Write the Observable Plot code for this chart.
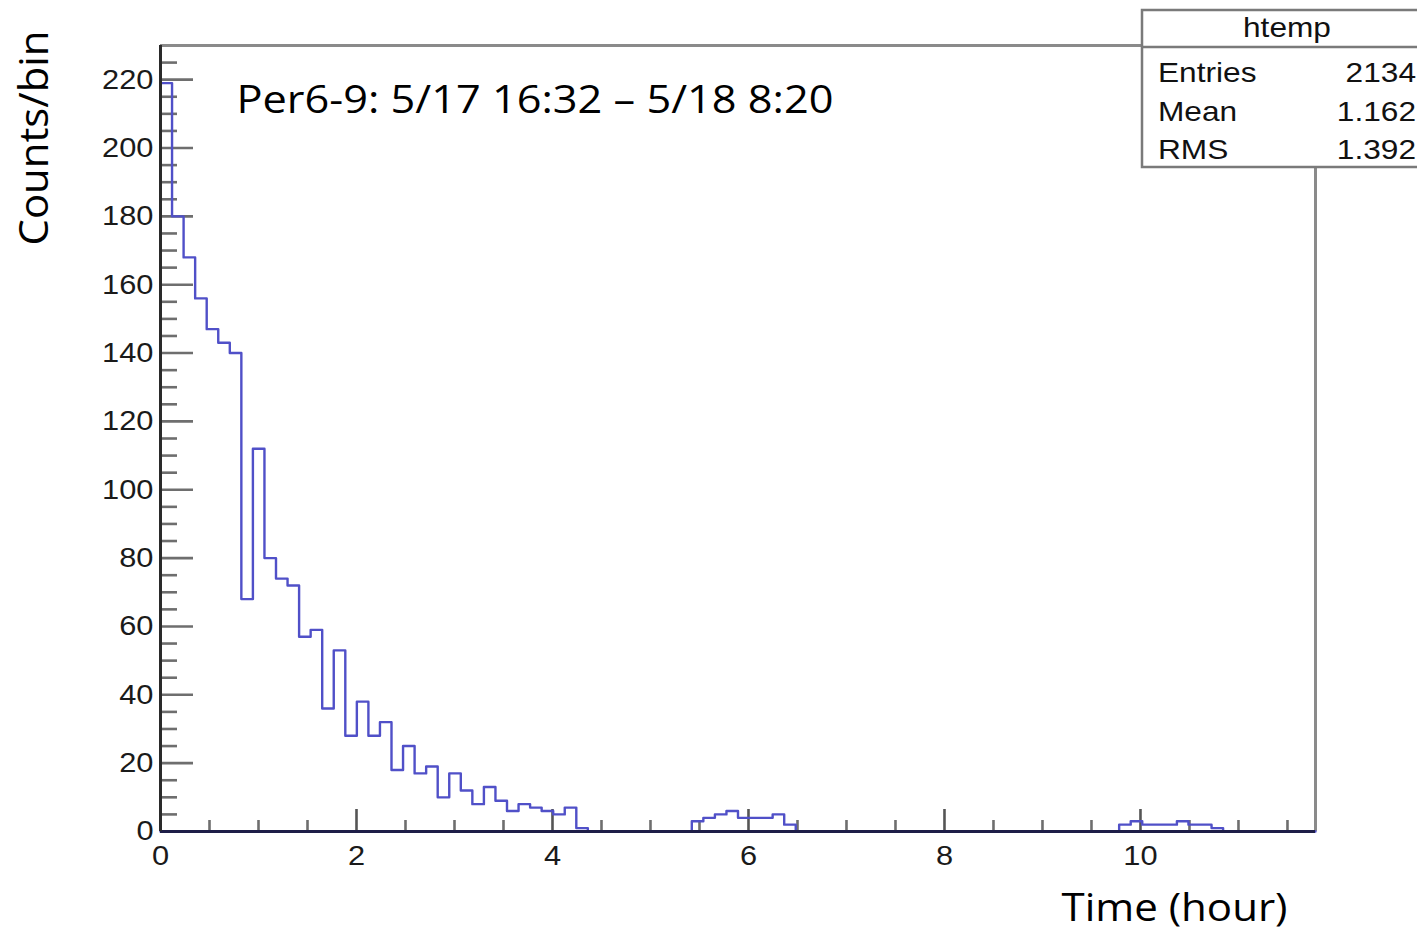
<!DOCTYPE html>
<html><head><meta charset="utf-8">
<script src="https://cdn.jsdelivr.net/npm/d3@7"></script>
<script src="https://cdn.jsdelivr.net/npm/@observablehq/plot@0.6"></script>
<style>html,body{margin:0;padding:0;background:#fff;overflow:hidden}</style>
</head><body><div id="chart"></div>
<script>
// Histogram counts per bin (100 bins from 0 to xMax hours)
const counts = [
  219,180,168,156,147,143,140,68,112,80,
  74,72,57,59,36,53,28,38,28,32,
  18,25,17,19,10,17,12,8,13,9,
  6,8,7,6,5,7,1,0,0,0,
  0,0,0,0,0,0,3,4,5,6,
  4,4,4,5,2,0,0,0,0,0,
  0,0,0,0,0,0,0,0,0,0,
  0,0,0,0,0,0,0,0,0,0,
  0,0,0,2,3,2,2,2,3,2,
  2,1,0,0,0,0,0,0,0,0
];
const xMax = 11.786;
const yMax = 230;
const xMajorTicks = [0, 2, 4, 6, 8, 10];
const xMinorTicks = [0.5, 1, 1.5, 2.5, 3, 3.5, 4.5, 5, 5.5, 6.5, 7, 7.5, 8.5, 9, 9.5, 10.5, 11, 11.5];
const yMajorTicks = [0, 20, 40, 60, 80, 100, 120, 140, 160, 180, 200, 220];
const yMinorTicks = [5,10,15,25,30,35,45,50,55,65,70,75,85,90,95,105,110,115,125,130,135,145,150,155,165,170,175,185,190,195,205,210,215,225];
const statsTitle = "htemp";
const statsLabels = ["Entries", "Mean", "RMS"];
const statsValues = ["2134", "1.162", "1.392"];
const annotation = "Per6-9: 5/17 16:32 – 5/18 8:20";
const xLabel = "Time (hour)";
const yLabel = "Counts/bin";

const binWidth = xMax / counts.length;
const steps = [{x: 0, y: 0}]
  .concat(counts.map((c, i) => ({x: i * binWidth, y: c})))
  .concat([{x: xMax, y: counts[counts.length - 1]}]);

const W = 1417, H = 931;
const mL = 160, mR = 102, mT = 45, mB = 100;
const fw = W - mL - mR, fh = H - mT - mB;
const tickFont = "Liberation Sans, Arial, Helvetica, sans-serif";
const annFont = "Open Sans, sans-serif";

const plot = Plot.plot({
  width: W, height: H,
  marginLeft: mL, marginRight: mR, marginTop: mT, marginBottom: mB,
  x: {domain: [0, xMax], axis: null},
  y: {domain: [0, yMax], axis: null},
  style: {background: "#fff", overflow: "visible"},
  marks: [
    Plot.ruleY([yMax], {stroke: "#8a8a8a", strokeWidth: 3}),
    Plot.ruleX([xMax], {stroke: "#8a8a8a", strokeWidth: 3}),
    Plot.tickY(yMajorTicks, {y: d => d, stroke: "#6e6e6e", strokeWidth: 2.6, insetRight: fw - 33}),
    Plot.tickY(yMinorTicks, {y: d => d, stroke: "#6e6e6e", strokeWidth: 2.6, insetRight: fw - 17}),
    Plot.tickX(xMajorTicks, {x: d => d, stroke: "#555", strokeWidth: 2.6, insetTop: fh - 22}),
    Plot.tickX(xMinorTicks, {x: d => d, stroke: "#6e6e6e", strokeWidth: 2.6, insetTop: fh - 11}),
    Plot.line(steps, {x: "x", y: "y", curve: "step-after", stroke: "#5050c8", strokeWidth: 2.4}),
    Plot.ruleY([0], {stroke: "#1e1e48", strokeWidth: 3}),
    Plot.ruleX([0], {stroke: "#2a2a2a", strokeWidth: 3}),
    Plot.text(yMajorTicks, {x: 0, y: d => d, text: d => String(d), dx: -7, textAnchor: "end", lineAnchor: "middle",
      fontSize: 28, fontFamily: tickFont, fill: "#1a1a1a", className: "tick-lab"}),
    Plot.text(xMajorTicks, {x: d => d, y: 0, text: d => String(d), dy: 25, textAnchor: "middle", lineAnchor: "middle",
      fontSize: 28, fontFamily: tickFont, fill: "#1a1a1a", className: "tick-lab"}),
    Plot.text([annotation], {text: d => d, frameAnchor: "top-left", dx: 76, dy: 67, textAnchor: "start", lineAnchor: "bottom",
      fontSize: 38, fontFamily: annFont, fill: "#000", className: "ann-annot"}),
    Plot.text([xLabel], {text: d => d, frameAnchor: "bottom-right", dx: -28, dy: 89, textAnchor: "end", lineAnchor: "bottom",
      fontSize: 38, fontFamily: annFont, fill: "#000", className: "ann-xlabel"}),
    Plot.text([yLabel], {text: d => d, frameAnchor: "top-left", dx: -113, dy: 92.5, rotate: -90, textAnchor: "middle", lineAnchor: "bottom",
      fontSize: 40, fontFamily: annFont, fill: "#000", className: "ann-ylabel"})
  ]
});
document.getElementById("chart").appendChild(plot);

const svg = d3.select(plot);
svg.selectAll(".ann-annot text").attr("textLength", 597).attr("lengthAdjust", "spacingAndGlyphs");
svg.selectAll(".ann-xlabel text").attr("textLength", 226).attr("lengthAdjust", "spacingAndGlyphs");
svg.selectAll(".ann-ylabel text").attr("textLength", 215).attr("lengthAdjust", "spacingAndGlyphs");
svg.selectAll(".tick-lab text").each(function() {
  const w = this.getComputedTextLength();
  d3.select(this).attr("textLength", w * 1.1).attr("lengthAdjust", "spacingAndGlyphs");
});

// Stats box (ROOT style)
const box = svg.append("g").attr("font-family", tickFont).attr("font-size", 28).attr("fill", "#111");
box.append("rect").attr("x", 1142).attr("y", 10).attr("width", 300).attr("height", 157)
  .attr("fill", "#fff").attr("stroke", "#7a7a7a").attr("stroke-width", 2.5);
box.append("line").attr("x1", 1142).attr("x2", 1440).attr("y1", 47).attr("y2", 47)
  .attr("stroke", "#7a7a7a").attr("stroke-width", 2.5);
const stretch = 1.13;
const t0 = box.append("text").attr("x", 1287).attr("y", 37).attr("text-anchor", "middle").text(statsTitle);
const rowsY = [82, 121, 159];
const texts = [t0];
statsLabels.forEach((l, i) => {
  texts.push(box.append("text").attr("x", 1158).attr("y", rowsY[i]).attr("text-anchor", "start").text(l));
  texts.push(box.append("text").attr("x", 1416).attr("y", rowsY[i]).attr("text-anchor", "end").text(statsValues[i]));
});
texts.forEach(t => {
  const n = t.node();
  const w = n.getComputedTextLength();
  t.attr("textLength", w * stretch).attr("lengthAdjust", "spacingAndGlyphs");
});
</script>
</body></html>
